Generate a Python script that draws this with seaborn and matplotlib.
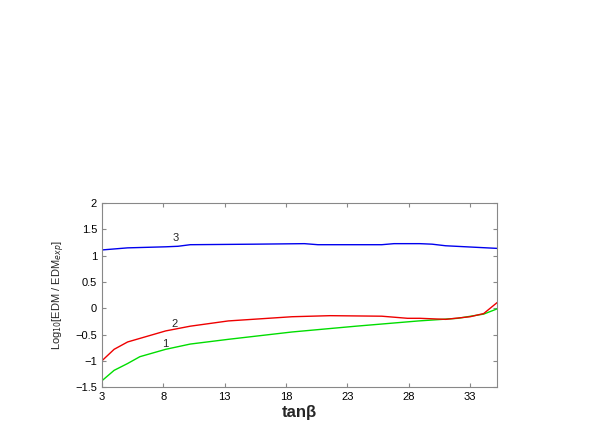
import matplotlib
matplotlib.use("Agg")
import matplotlib.pyplot as plt
import seaborn as sns
import pandas as pd

sns.set_style("ticks")
plt.rcParams['font.family'] = ['Liberation Sans', 'DejaVu Sans']

x1 = [3, 4, 5.1, 6.1, 8.2, 10.2, 13.3, 18.5, 23.7, 28.8, 32, 34.1, 35.2]
y1 = [-1.38, -1.18, -1.05, -0.92, -0.78, -0.68, -0.59, -0.45, -0.34, -0.24, -0.19, -0.11, -0.01]
x2 = [3, 4, 5.1, 8.2, 10.2, 13.3, 18.5, 21.6, 25.8, 27.9, 28.9, 31, 33, 34.1, 35.2]
y2 = [-1.0, -0.78, -0.64, -0.43, -0.34, -0.24, -0.16, -0.14, -0.15, -0.19, -0.19, -0.21, -0.16, -0.1, 0.11]
x3 = [3, 5.1, 8.2, 9.2, 10.2, 15.4, 19.5, 20.6, 25.8, 26.8, 28.9, 29.9, 31, 35.2]
y3 = [1.11, 1.15, 1.17, 1.18, 1.21, 1.22, 1.23, 1.21, 1.21, 1.23, 1.23, 1.22, 1.19, 1.14]
xticks = [3, 8, 13, 18, 23, 28, 33]
yticks = [-1.5, -1, -0.5, 0, 0.5, 1, 1.5, 2]

fig = plt.figure(figsize=(5.99, 4.36), dpi=100)
ax = fig.add_axes([0.170, 0.112, 0.660, 0.422])
for xs, ys, c in [(x1, y1, '#00dd00'), (x2, y2, '#ee0000'), (x3, y3, '#0000ee')]:
    sns.lineplot(x=xs, y=ys, color=c, lw=1.0, ax=ax)
ax.text(8.2, -0.68, "1", fontsize=8, ha='center', va='center')
ax.text(8.9, -0.30, "2", fontsize=8, ha='center', va='center')
ax.text(9.0, 1.34, "3", fontsize=8, ha='center', va='center')
ax.set_xlim(3, 35.2)
ax.set_ylim(-1.5, 2)
ax.set_xticks(xticks)
ax.set_yticks(yticks)
ax.set_yticklabels(['\u22121.5', '\u22121', '\u22120.5', '0', '0.5', '1', '1.5', '2'])
ax.tick_params(direction='in', length=3, labelsize=8, right=True, top=True, colors='#888888', labelcolor='black')
for s in ax.spines.values():
    s.set_color('#888888'); s.set_linewidth(0.8)
ax.set_xlabel("tan\u03b2", fontsize=12, fontweight='bold', labelpad=2)
ax.set_ylabel(r"Log$_{10}$[EDM / EDM$_{exp}$]", fontsize=8, labelpad=6)
fig.savefig("out.png", dpi=100)
